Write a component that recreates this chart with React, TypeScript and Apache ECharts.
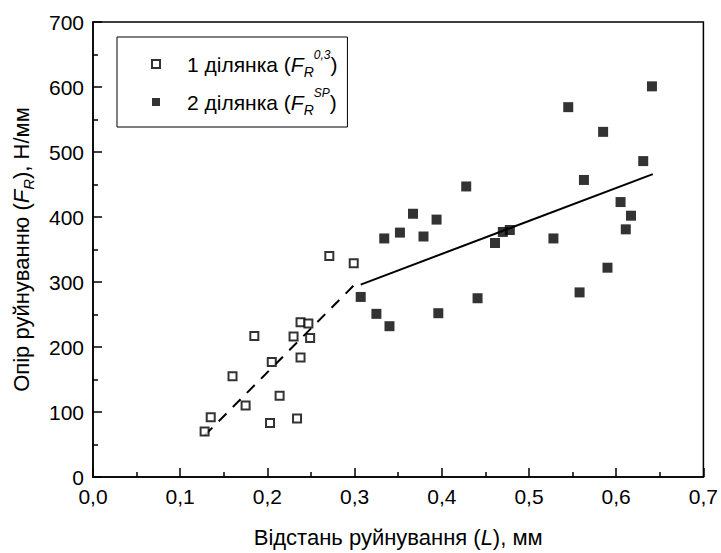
import React, { useEffect, useRef } from "react";
import * as echarts from "echarts";

const FONT = "'Liberation Sans', Arial, sans-serif";

// X axis: distance of failure L, mm
const X_MIN = 0;
const X_MAX = 0.7;
const X_STEP = 0.1;
// Y axis: resistance F_R, N/mm
const Y_MIN = 0;
const Y_MAX = 700;
const Y_STEP = 100;

const SERIES1_NAME = "1 ділянка";
const SERIES2_NAME = "2 ділянка";

// Section 1 (open squares)
const S1_L = [0.128, 0.135, 0.16, 0.175, 0.185, 0.203, 0.205, 0.214, 0.23, 0.234, 0.238, 0.238, 0.247, 0.249, 0.271, 0.299];
const S1_F = [70, 92, 155, 110, 217, 83, 177, 125, 216, 90, 238, 184, 236, 214, 340, 329];

// Section 2 (filled squares)
const S2_L = [0.307, 0.325, 0.334, 0.34, 0.352, 0.367, 0.379, 0.394, 0.396, 0.428, 0.441, 0.461, 0.47, 0.478, 0.528, 0.545, 0.558, 0.563, 0.585, 0.59, 0.605, 0.611, 0.617, 0.631, 0.641];
const S2_F = [277, 251, 367, 232, 376, 405, 370, 396, 252, 447, 275, 360, 377, 380, 367, 569, 284, 457, 531, 322, 423, 381, 402, 486, 601];

// Trend lines
const TREND1_L = [0.128, 0.3];
const TREND1_F = [64, 296];
const TREND2_L = [0.307, 0.642];
const TREND2_F = [296, 466];

const zip = (xs: number[], ys: number[]) => xs.map((x, i) => [x, ys[i]]);

const legendRich: any = {
  n: { fontSize: 21, fontFamily: FONT, color: "#000", lineHeight: 30 },
  n0: { fontSize: 21, fontFamily: FONT, color: "#000", lineHeight: 30, padding: [0, 0, 0, 22] },
  i: { fontSize: 21, fontFamily: FONT, fontStyle: "italic", color: "#000", lineHeight: 30 },
  sub: { fontSize: 14, fontFamily: FONT, fontStyle: "italic", color: "#000", lineHeight: 14, verticalAlign: "bottom" },
  sup: { fontSize: 12, fontFamily: FONT, fontStyle: "italic", color: "#000", lineHeight: 12, verticalAlign: "top" },
};

const titleRich: any = {
  n: { fontSize: 22, fontFamily: FONT, color: "#000", lineHeight: 30 },
  i: { fontSize: 22, fontFamily: FONT, fontStyle: "italic", color: "#000", lineHeight: 30 },
  sub: { fontSize: 15, fontFamily: FONT, fontStyle: "italic", color: "#000", lineHeight: 15, verticalAlign: "bottom" },
};

export default function App() {
  const ref = useRef<HTMLDivElement>(null);

  useEffect(() => {
    if (!ref.current) return;
    const chart = echarts.init(ref.current, null, { renderer: "svg" });
    chart.setOption({
      animation: false,
      backgroundColor: "#fff",
      grid: {
        left: 93,
        right: 14,
        top: 22,
        bottom: 75,
        show: true,
        borderColor: "#000",
        borderWidth: 1.5,
        backgroundColor: "transparent",
      },
      legend: {
        data: [SERIES1_NAME, SERIES2_NAME],
        orient: "vertical",
        left: 117,
        top: 37,
        padding: [12, 10, 10, 34],
        itemGap: 8,
        itemWidth: 8,
        itemHeight: 8,
        borderColor: "#000",
        borderWidth: 1,
        selectedMode: false,
        formatter: (name: string) =>
          name === SERIES1_NAME
            ? "{n0|1 ділянка (}{i|F}{sub|R}{sup|0,3}{n|)}"
            : "{n0|2 ділянка (}{i|F}{sub|R}{sup|SP}{n|)}",
        textStyle: { rich: legendRich, fontFamily: FONT, fontSize: 21, color: "#000" },
      },
      xAxis: {
        type: "value",
        min: X_MIN,
        max: X_MAX,
        interval: X_STEP,
        name: "{n|Відстань руйнування (}{i|L}{n|), мм}",
        nameLocation: "middle",
        nameGap: 45,
        nameTextStyle: { rich: titleRich, fontFamily: FONT, fontSize: 22, color: "#000" },
        axisLine: { show: true, lineStyle: { color: "#000", width: 1.5 } },
        axisTick: { show: true, inside: true, length: 9, lineStyle: { color: "#000", width: 1.5 } },
        minorTick: { show: true, splitNumber: 2, length: 5, lineStyle: { color: "#000", width: 1.5 } },
        splitLine: { show: false },
        axisLabel: {
          color: "#000",
          fontSize: 21,
          fontFamily: FONT,
          margin: 9,
          formatter: (v: number) => v.toFixed(1).replace(".", ","),
        },
      },
      yAxis: {
        type: "value",
        min: Y_MIN,
        max: Y_MAX,
        interval: Y_STEP,
        name: "{n|Опір руйнуванню (}{i|F}{sub|R}{n|), Н/мм}",
        nameLocation: "middle",
        nameGap: 57,
        nameRotate: 90,
        nameTextStyle: { rich: titleRich, fontFamily: FONT, fontSize: 22, color: "#000" },
        axisLine: { show: true, lineStyle: { color: "#000", width: 1.5 } },
        axisTick: { show: true, inside: true, length: 9, lineStyle: { color: "#000", width: 1.5 } },
        minorTick: { show: true, splitNumber: 2, length: 5, lineStyle: { color: "#000", width: 1.5 } },
        splitLine: { show: false },
        axisLabel: { color: "#000", fontSize: 21, fontFamily: FONT, margin: 9 },
      },
      series: [
        {
          name: SERIES1_NAME,
          type: "scatter",
          symbol: "rect",
          symbolSize: 8,
          itemStyle: { color: "#fff", borderColor: "#000", borderWidth: 2 },
          data: zip(S1_L, S1_F),
          z: 3,
        },
        {
          name: SERIES2_NAME,
          type: "scatter",
          symbol: "rect",
          symbolSize: 10,
          itemStyle: { color: "#000" },
          data: zip(S2_L, S2_F),
          z: 3,
        },
        {
          name: "trend1",
          type: "line",
          symbol: "none",
          lineStyle: { color: "#000", width: 2, type: [11, 9] },
          data: zip(TREND1_L, TREND1_F),
          z: 2,
        },
        {
          name: "trend2",
          type: "line",
          symbol: "none",
          lineStyle: { color: "#000", width: 2 },
          data: zip(TREND2_L, TREND2_F),
          z: 2,
        },
      ],
    });
    return () => chart.dispose();
  }, []);

  return (
    <div
      ref={ref}
      style={{ position: "fixed", left: 0, top: 0, width: 721, height: 553, background: "#fff" }}
    />
  );
}
